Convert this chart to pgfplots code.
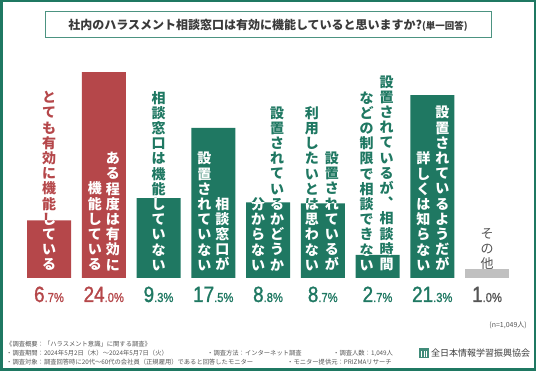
\documentclass[border=0pt]{standalone}
\usepackage{pgfplots}
\pgfplotsset{compat=1.18}
\usepackage{fontspec}
\setmainfont{Noto Sans CJK JP}
\newfontfamily\num[FakeStretch=0.86, FakeBold=1.2]{Liberation Sans}
\definecolor{cred}{HTML}{B5474A}
\definecolor{cgreen}{HTML}{1F7862}
\definecolor{cgray}{HTML}{C0C0C0}
\definecolor{tgray}{HTML}{555555}
\definecolor{ttitle}{HTML}{3A3A3A}
\makeatletter
\def\vt#1{\vbox{\fontsize{14}{15.2}\selectfont\bfseries\baselineskip=15.2pt\lineskiplimit=-20pt\lineskip=0pt\vt@#1\relax}}
\def\vtn#1{\vbox{\fontsize{13}{15}\selectfont\baselineskip=15pt\lineskiplimit=-20pt\lineskip=0pt\vt@#1\relax}}
\def\vt@#1{\ifx\relax#1\else\hbox to 15pt{\hss#1\hss}\expandafter\vt@\fi}
\makeatother
% #1 x, #2 xshift, #3 bar value, #4 colour above bar, #5 text
\newcommand\vlab[5]{%
  \pgfplotsextra{%
    \begin{scope}
      \clip (axis cs:#1-0.5,#3) rectangle (axis cs:#1+0.5,40);
      \node[anchor=south, inner sep=0pt, text=#4, xshift=#2, yshift=7pt] at (axis cs:#1,0) {\vt{#5}};
    \end{scope}
    \begin{scope}
      \clip (axis cs:#1-0.5,0) rectangle (axis cs:#1+0.5,#3);
      \node[anchor=south, inner sep=0pt, text=white, xshift=#2, yshift=7pt] at (axis cs:#1,0) {\vt{#5}};
    \end{scope}}}
\newcommand\pct[2]{{\num\fontsize{22}{22}\selectfont #1}{\num\fontsize{13}{13}\selectfont .#2\%}}
\begin{document}
\begin{tikzpicture}
\useasboundingbox (0,0) rectangle (536pt,371pt);
\begin{axis}[
  at={(0,0)}, anchor=south west, scale only axis,
  width=536pt, height=371pt,
  xmin=-0.895, xmax=8.895, ymin=-10.84, ymax=32.40,
  hide axis, clip=false,
]
\addplot[ybar, bar width=44pt, bar shift=0pt, fill=cred, draw=none] coordinates {(0,6.7) (1,24.0)};
\addplot[ybar, bar width=44pt, bar shift=0pt, fill=cgreen, draw=none] coordinates {(2,9.3) (3,17.5) (4,8.8) (5,8.7) (6,2.7) (7,21.3)};
\addplot[ybar, bar width=44pt, bar shift=0pt, fill=cgray, draw=none] coordinates {(8,1.0)};

\vlab{0}{0pt}{6.7}{cred}{とても有効に機能している}
\vlab{1}{9pt}{24.0}{cred}{ある程度は有効に}
\vlab{1}{-9pt}{24.0}{cred}{機能している}
\vlab{2}{0pt}{9.3}{cgreen}{相談窓口は機能していない}
\vlab{3}{9pt}{17.5}{cgreen}{相談窓口が}
\vlab{3}{-9pt}{17.5}{cgreen}{設置されていない}
\vlab{4}{9pt}{8.8}{cgreen}{設置されているかどうか}
\vlab{4}{-10pt}{8.8}{cgreen}{分からない}
\vlab{5}{9pt}{8.7}{cgreen}{設置されているが}
\vlab{5}{-11pt}{8.7}{cgreen}{利用したいとは思わない}
\vlab{6}{9pt}{2.7}{cgreen}{設置されているが︑相談時間}
\vlab{6}{-11pt}{2.7}{cgreen}{などの制限で相談できない}
\vlab{7}{10pt}{21.3}{cgreen}{設置されているようだが}
\vlab{7}{-9pt}{21.3}{cgreen}{詳しくは知らない}
\node[anchor=south, inner sep=0pt, text=tgray, yshift=8pt] at (axis cs:8,0) {\vtn{その他}};

\node[anchor=base, inner sep=0pt, text=cred, yshift=-24pt] at (axis cs:0,0) {\pct{6}{7}};
\node[anchor=base, inner sep=0pt, text=cred, yshift=-24pt] at (axis cs:1,0) {\pct{24}{0}};
\node[anchor=base, inner sep=0pt, text=cgreen, yshift=-24pt] at (axis cs:2,0) {\pct{9}{3}};
\node[anchor=base, inner sep=0pt, text=cgreen, yshift=-24pt] at (axis cs:3,0) {\pct{17}{5}};
\node[anchor=base, inner sep=0pt, text=cgreen, yshift=-24pt] at (axis cs:4,0) {\pct{8}{8}};
\node[anchor=base, inner sep=0pt, text=cgreen, yshift=-24pt] at (axis cs:5,0) {\pct{8}{7}};
\node[anchor=base, inner sep=0pt, text=cgreen, yshift=-24pt] at (axis cs:6,0) {\pct{2}{7}};
\node[anchor=base, inner sep=0pt, text=cgreen, yshift=-24pt] at (axis cs:7,0) {\pct{21}{3}};
\node[anchor=base, inner sep=0pt, text=tgray, yshift=-24pt] at (axis cs:8,0) {\pct{1}{0}};
\end{axis}
% frame and title
\draw[cgreen, line width=2.5pt] (1.25pt,1.25pt) rectangle (534.75pt,369.75pt);
\draw[cgreen!80, line width=1pt, fill=white] (45pt,333pt) rectangle (491pt,359pt);
\node[text=ttitle, inner sep=0pt] at (268pt,346pt) {\fontsize{12}{14}\selectfont\bfseries 社内のハラスメント相談窓口は有効に機能していると思いますか?{\fontsize{9.5}{11}\selectfont (単一回答)}};
% footnotes
\node[text=tgray, anchor=east, inner sep=0pt] at (527pt,46pt) {\fontsize{7}{8}\selectfont (n=1,049人)};
\begin{scope}[every node/.style={text=tgray, anchor=west, inner sep=0pt, font=\fontsize{6.3}{7}\selectfont}]
\node at (6pt,27pt) {《調査概要：「ハラスメント意識」に関する調査》};
\node at (6pt,18pt) {・調査期間：2024年5月2日（木）〜2024年5月7日（火）};
\node at (207pt,18pt) {・調査方法：インターネット調査};
\node at (333pt,18pt) {・調査人数：1,049人};
\node at (6pt,8.5pt) {・調査対象：調査回答時に20代〜60代の会社員（正規雇用）であると回答したモニター};
\node at (287pt,8.5pt) {・モニター提供元：PRIZMAリサーチ};
\end{scope}
\fill[cgreen!85] (419pt,13pt) rectangle (429pt,23pt);
\foreach \xx in {421,423.5,426} \fill[white] (\xx pt,14pt) rectangle (\xx pt+1pt,20pt);
\node[text=ttitle, anchor=west, inner sep=0pt] at (431pt,18pt) {\fontsize{9}{10}\selectfont 全日本情報学習振興協会};
\end{tikzpicture}
\end{document}
